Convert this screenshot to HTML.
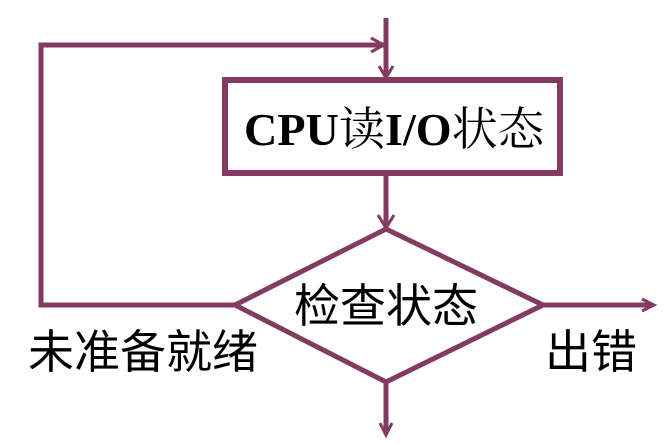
<!DOCTYPE html>
<html><head><meta charset="utf-8"><style>
html,body{margin:0;padding:0;background:#fff;}
body{width:672px;height:440px;overflow:hidden;}
</style></head><body>
<svg width="672" height="440" xmlns="http://www.w3.org/2000/svg">
<g stroke="#843B62" fill="none" stroke-width="5">
<line x1="386" y1="18" x2="386" y2="80"/>
<polyline points="379,66 386,78 393,66" stroke-width="3"/>
<polyline points="235,305 41,305 41,45 384,45"/>
<polyline points="371,38 384,45 371,52" stroke-width="3"/>
<rect x="225" y="80" width="335" height="93" stroke-width="6"/>
<line x1="386" y1="173" x2="386" y2="228"/>
<polyline points="378,215 386,228 394,215" stroke-width="3"/>
<polygon points="386,229 543,305 386,382 235,305"/>
<line x1="543" y1="305" x2="652" y2="305"/>
<polyline points="642,299 654,305 642,311" stroke-width="3"/>
<line x1="386" y1="382" x2="386" y2="433"/>
<polyline points="380,423 386,435 392,423" stroke-width="3"/>
</g>
<text x="394" y="145" text-anchor="middle" font-family="'Liberation Serif','Noto Serif CJK SC',serif" font-weight="bold" font-size="46" textLength="300" lengthAdjust="spacingAndGlyphs">CPU<tspan font-weight="normal">读</tspan>I/O<tspan font-weight="normal">状态</tspan></text>
<g font-family="'Liberation Sans','Noto Sans CJK SC',sans-serif" font-size="46" fill="#000">
<text x="386" y="322" text-anchor="middle">检查状态</text>
<text x="28" y="368">未准备就绪</text>
<text x="545" y="368">出错</text>
</g>
</svg>
</body></html>
